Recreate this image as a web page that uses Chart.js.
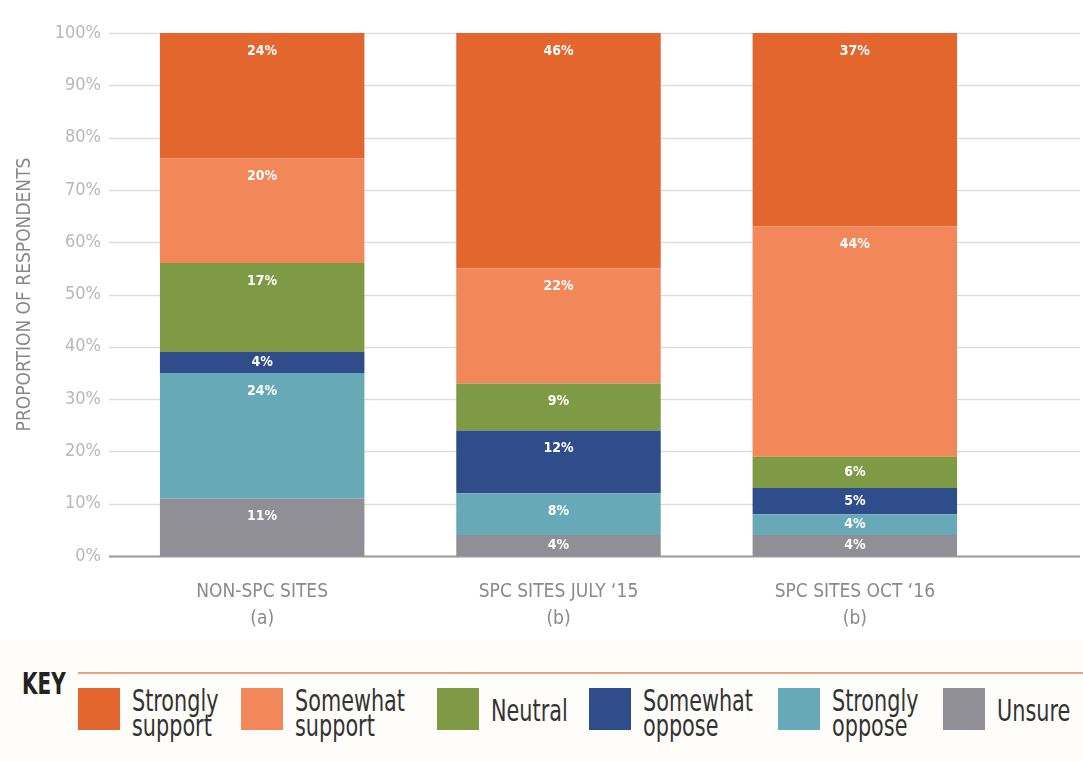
<!DOCTYPE html>
<html>
<head>
<meta charset="utf-8">
<script src="https://cdn.jsdelivr.net/npm/chart.js@4.4.0/dist/chart.umd.min.js"></script>
<style>
  body { margin: 0; background: #fff; font-family: "DejaVu Sans Condensed", "DejaVu Sans", sans-serif; }
  #wrap { position: relative; width: 1083px; height: 762px; }
  #key { position: absolute; left: 0; top: 640px; width: 1083px; height: 122px; background: #fffdf9; }
  #keyTitle { position: absolute; left: 22px; top: 33px; font-size: 30px; line-height: 22px; font-weight: bold; color: #222;
              transform: scaleX(0.74); transform-origin: 0 0; }
  #keyLine { position: absolute; left: 78px; top: 32px; width: 1005px; height: 2px; background: #e6a283; }
  .item { position: absolute; top: 48px; }
  .sw { position: absolute; left: 0; top: 0; width: 42px; height: 42px; }
  .lbl { position: absolute; top: 0px; left: 54px; font-size: 30px; line-height: 25px; color: #333; white-space: nowrap;
         transform: scaleX(0.77); transform-origin: 0 0; }
</style>
</head>
<body>
<div id="wrap">
  <canvas id="myChart" width="1083" height="640"></canvas>
  <div id="key"><div id="keyTitle">KEY</div><div id="keyLine"></div></div>
</div>
<script>
const categories = [["NON-SPC SITES", "(a)"], ["SPC SITES JULY \u201815", "(b)"], ["SPC SITES OCT \u201816", "(b)"]];
const seriesNames = ["Unsure", "Strongly oppose", "Somewhat oppose", "Neutral", "Somewhat support", "Strongly support"];
const seriesColors = ["#8f8f95", "#67a9b7", "#2f4d8b", "#7e9a45", "#f2875a", "#e4662f"];
const unsure = [11, 4, 4];
const stronglyOppose = [24, 8, 4];
const somewhatOppose = [4, 12, 5];
const neutral = [17, 9, 6];
const somewhatSupport = [20, 22, 44];
const stronglySupport = [24, 46, 37];
const yTicks = [0, 10, 20, 30, 40, 50, 60, 70, 80, 90, 100];

// key order and text (two lines where the original wraps)
const keyOrder = [5, 4, 3, 2, 1, 0];
const keyText = [["Strongly", "support"], ["Somewhat", "support"], ["Neutral"], ["Somewhat", "oppose"], ["Strongly", "oppose"], ["Unsure"]];
const keyX = [78, 241, 437, 589, 778, 943];

const allSeries = [unsure, stronglyOppose, somewhatOppose, neutral, somewhatSupport, stronglySupport];

const fontFam = '"DejaVu Sans Condensed", "DejaVu Sans", sans-serif';

// grid lines run past the plot area to the right edge
const gridPlugin = {
    id: 'extGrid',
    beforeDatasetsDraw(chart) {
        const ctx = chart.ctx;
        const y = chart.scales.y;
        ctx.save();
        yTicks.forEach(function(t) {
            const py = Math.round(y.getPixelForValue(t)) + 0.5;
            ctx.beginPath();
            if (t === 0) {
                ctx.strokeStyle = '#9a9a9a';
                ctx.lineWidth = 2;
            } else {
                ctx.strokeStyle = '#dedede';
                ctx.lineWidth = 1.5;
            }
            ctx.moveTo(109, py);
            ctx.lineTo(1080, py);
            ctx.stroke();
        });
        ctx.restore();
    }
};

const labelPlugin = {
    id: 'segLabels',
    afterDatasetsDraw(chart) {
        const ctx = chart.ctx;
        ctx.save();
        ctx.fillStyle = '#ffffff';
        ctx.font = 'bold 14px ' + fontFam;
        ctx.textAlign = 'center';
        ctx.textBaseline = 'middle';
        chart.data.datasets.forEach(function(ds, i) {
            const meta = chart.getDatasetMeta(i);
            meta.data.forEach(function(bar, j) {
                const top = Math.max(bar.y, chart.chartArea.top);
                const bottom = bar.base;
                const yy = Math.min(top + 18, (top + bottom) / 2);
                ctx.fillText(ds.data[j] + '%', bar.x, yy);
            });
        });
        ctx.restore();
    }
};

document.addEventListener('DOMContentLoaded', function() {
    const ctx = document.getElementById('myChart').getContext('2d');
    const myChart = new Chart(ctx, {
        type: 'bar',
        data: {
            labels: categories,
            datasets: allSeries.map(function(vals, i) {
                return {
                    label: seriesNames[i],
                    data: vals,
                    backgroundColor: seriesColors[i],
                    borderWidth: 0,
                    barPercentage: 0.69,
                    categoryPercentage: 1.0
                };
            })
        },
        options: {
            responsive: false,
            maintainAspectRatio: false,
            animation: false,
            layout: { padding: { top: 33, right: 80, left: 0, bottom: 0 } },
            plugins: { legend: { display: false }, tooltip: { enabled: false } },
            scales: {
                x: {
                    stacked: true,
                    grid: { display: false, drawTicks: false },
                    border: { display: false },
                    ticks: {
                        color: '#8a8a8a',
                        padding: 23,
                        font: { family: fontFam, size: 19, lineHeight: 1.4 }
                    },
                    afterFit: function(s) { s.height = 84; }
                },
                y: {
                    stacked: true,
                    min: 0,
                    max: 100,
                    grid: { display: false, drawTicks: false },
                    border: { display: false },
                    ticks: {
                        stepSize: 10,
                        color: '#b8b8b8',
                        padding: 13,
                        font: { family: fontFam, size: 18 },
                        callback: function(v) { return v + '%'; }
                    },
                    title: {
                        display: true,
                        text: 'PROPORTION OF RESPONDENTS',
                        color: '#888888',
                        padding: { top: 14, bottom: 0 },
                        font: { family: fontFam, size: 19 }
                    },
                    afterFit: function(s) { s.width = 114; }
                }
            }
        },
        plugins: [gridPlugin, labelPlugin]
    });

    // key
    const key = document.getElementById('key');
    keyOrder.forEach(function(si, k) {
        const item = document.createElement('div');
        item.className = 'item';
        item.style.left = keyX[k] + 'px';
        const sw = document.createElement('div');
        sw.className = 'sw';
        sw.style.background = seriesColors[si];
        const lbl = document.createElement('div');
        lbl.className = 'lbl';
        if (keyText[k].length === 1) lbl.style.top = '10px';
        lbl.innerHTML = keyText[k].join('<br>');
        item.appendChild(sw);
        item.appendChild(lbl);
        key.appendChild(item);
    });
});
</script>
</body>
</html>
